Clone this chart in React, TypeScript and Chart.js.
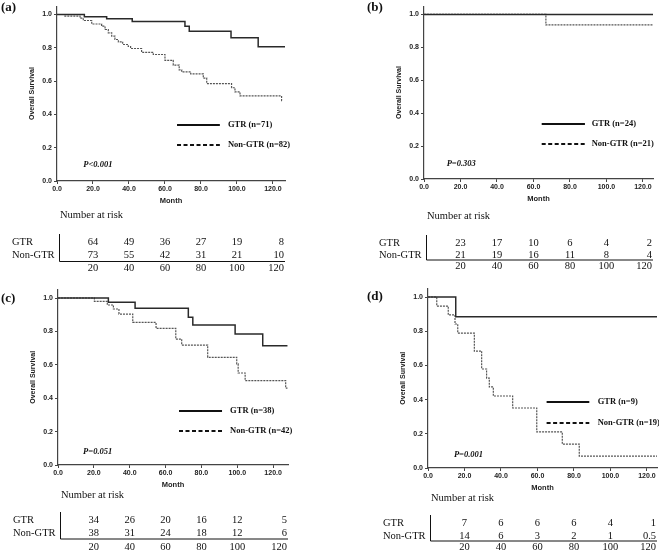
import React, { useEffect, useRef } from "react";
import { Chart, registerables } from "chart.js";

Chart.register(...registerables);

// ---------- data ----------
const riskMonths = [20, 40, 60, 80, 100, 120];
const xTickValues = [0, 20, 40, 60, 80, 100, 120];
const yTickValues = [0, 0.2, 0.4, 0.6, 0.8, 1.0];
const groupNames = ["GTR", "Non-GTR"];

// (a)
const aGtrTime = [0, 15.2, 27.6, 41.8, 71.1, 73.5, 96.7, 111.8, 126.7];
const aGtrSurv = [1, 0.987, 0.974, 0.958, 0.929, 0.9, 0.861, 0.806, 0.806];
const aNonTime = [0, 4.4, 12.8, 14.6, 19.3, 24.8, 26.7, 28.5, 30.4, 32.2, 34.1, 36.5, 39.6, 40.9, 47, 53.5, 60, 64.6, 67.9, 69.3, 74.3, 81.3, 83.2, 97, 98.9, 101.7, 124.8, 125.5];
const aNonSurv = [1, 0.99, 0.978, 0.964, 0.943, 0.93, 0.91, 0.89, 0.87, 0.85, 0.836, 0.82, 0.808, 0.796, 0.773, 0.76, 0.725, 0.696, 0.667, 0.655, 0.643, 0.618, 0.585, 0.56, 0.535, 0.511, 0.483, 0.483];
const aRiskGtr = [64, 49, 36, 27, 19, 8];
const aRiskNon = [73, 55, 42, 31, 21, 10];

// (b)
const bGtrTime = [0, 125.5];
const bGtrSurv = [1, 1];
const bNonTime = [0, 66.8, 125.5];
const bNonSurv = [1, 0.936, 0.936];
const bRiskGtr = [23, 17, 10, 6, 4, 2];
const bRiskNon = [21, 19, 16, 11, 8, 4];

// (c)
const cGtrTime = [0, 28.1, 43, 72.7, 75.2, 98.8, 114.2, 128];
const cGtrSurv = [1, 0.974, 0.938, 0.884, 0.838, 0.784, 0.714, 0.714];
const cNonTime = [0, 20.3, 27.5, 30.9, 34, 41.7, 54.7, 65.7, 69, 83.5, 99.7, 100.5, 104.4, 127, 128];
const cNonSurv = [1, 0.98, 0.958, 0.934, 0.904, 0.854, 0.818, 0.754, 0.718, 0.645, 0.605, 0.551, 0.505, 0.46, 0.46];
const cRiskGtr = [34, 26, 20, 16, 12, 5];
const cRiskNon = [38, 31, 24, 18, 12, 6];

// (d)
const dGtrTime = [0, 15.2, 125.5];
const dGtrSurv = [1, 0.885, 0.885];
const dNonTime = [0, 4.8, 11.1, 14.8, 16.3, 25.4, 29.4, 32.1, 33.6, 35.8, 46.4, 59.6, 73.6, 82.9, 125.5];
const dNonSurv = [1, 0.947, 0.895, 0.842, 0.789, 0.684, 0.579, 0.526, 0.474, 0.421, 0.351, 0.211, 0.14, 0.07, 0.07];
const dRiskGtr = [7, 6, 6, 6, 4, 1];
const dRiskNon = [14, 6, 3, 2, 1, 0.5];

// ---------- style / layout ----------
const SERIF = '"Liberation Serif", "Times New Roman", serif';
const SANS = '"Liberation Sans", Arial, sans-serif';
const YW = 29; // y scale box width
const XH = 24.5; // x scale box height

type Panel = {
  left: number; top: number; w: number; h: number;
  L: number; R: number; T: number; B: number; xMax: number;
  label: string; labelX: number; labelY: number;
  gtrTime: number[]; gtrSurv: number[]; nonTime: number[]; nonSurv: number[];
  riskGtr: number[]; riskNon: number[];
  legendX: number[]; legendY: number[]; legendText: string[];
  pText: string; pX: number; pY: number;
  tab: { nar: number; gtr: number; non: number; bottom: number; hline: number };
};

const panels: Panel[] = [
  {
    left: 0, top: 0, w: 330, h: 280, L: 57, R: 285, T: 0.9, B: 181, xMax: 126.7,
    label: "(a)", labelX: 1, labelY: 8,
    gtrTime: aGtrTime, gtrSurv: aGtrSurv, nonTime: aNonTime, nonSurv: aNonSurv,
    riskGtr: aRiskGtr, riskNon: aRiskNon,
    legendX: [66.7, 90.5, 95], legendY: [0.338, 0.216], legendText: ["GTR (n=71)", "Non-GTR (n=82)"],
    pText: "P<0.001", pX: 14.6, pY: 0.1,
    tab: { nar: 215, gtr: 242, non: 255, bottom: 268, hline: 261.5 },
  },
  {
    left: 330, top: 0, w: 329, h: 280, L: 94, R: 323, T: 2.6, B: 179, xMax: 125.5,
    label: "(b)", labelX: 37, labelY: 8,
    gtrTime: bGtrTime, gtrSurv: bGtrSurv, nonTime: bNonTime, nonSurv: bNonSurv,
    riskGtr: bRiskGtr, riskNon: bRiskNon,
    legendX: [64.5, 88.2, 91.9], legendY: [0.335, 0.212], legendText: ["GTR (n=24)", "Non-GTR (n=21)"],
    pText: "P=0.303", pX: 12.4, pY: 0.093,
    tab: { nar: 216, gtr: 243, non: 255, bottom: 266, hline: 260 },
  },
  {
    left: 0, top: 280, w: 330, h: 273, L: 58, R: 288, T: 9.65, B: 185, xMax: 128.3,
    label: "(c)", labelX: 1, labelY: 19,
    gtrTime: cGtrTime, gtrSurv: cGtrSurv, nonTime: cNonTime, nonSurv: cNonSurv,
    riskGtr: cRiskGtr, riskNon: cRiskNon,
    legendX: [67.5, 91.5, 96], legendY: [0.325, 0.205], legendText: ["GTR (n=38)", "Non-GTR (n=42)"],
    pText: "P=0.051", pX: 14, pY: 0.078,
    tab: { nar: 215, gtr: 240, non: 253, bottom: 267, hline: 259 },
  },
  {
    left: 330, top: 280, w: 329, h: 273, L: 98, R: 327, T: 8.45, B: 188, xMax: 125.5,
    label: "(d)", labelX: 37, labelY: 17,
    gtrTime: dGtrTime, gtrSurv: dGtrSurv, nonTime: dNonTime, nonSurv: dNonSurv,
    riskGtr: dRiskGtr, riskNon: dRiskNon,
    legendX: [65, 88.4, 93], legendY: [0.388, 0.261], legendText: ["GTR (n=9)", "Non-GTR (n=19)"],
    pText: "P=0.001", pX: 14.2, pY: 0.08,
    tab: { nar: 218, gtr: 243, non: 256, bottom: 267, hline: 261 },
  },
];

function makeExtras(p: Panel) {
  return {
    id: "kmExtras",
    afterDraw(chart: any) {
      const ctx = chart.ctx;
      const xs = chart.scales.x;
      const ys = chart.scales.y;
      const ca = chart.chartArea;
      ctx.save();
      // panel label
      ctx.fillStyle = "#111";
      ctx.textBaseline = "middle";
      ctx.textAlign = "left";
      ctx.font = `bold 13px ${SERIF}`;
      ctx.fillText(p.label, p.labelX, p.labelY);

      // legend
      const lx0 = xs.getPixelForValue(p.legendX[0]);
      const lx1 = xs.getPixelForValue(p.legendX[1]);
      const tx = xs.getPixelForValue(p.legendX[2]);
      ctx.strokeStyle = "#111";
      ctx.lineWidth = 2;
      p.legendY.forEach((v, i) => {
        const y = Math.round(ys.getPixelForValue(v));
        ctx.setLineDash(i === 0 ? [] : [4, 2.5]);
        ctx.beginPath();
        ctx.moveTo(lx0, y);
        ctx.lineTo(lx1, y);
        ctx.stroke();
        ctx.font = `bold 8.5px ${SERIF}`;
        ctx.fillText(p.legendText[i], tx, y);
      });
      ctx.setLineDash([]);

      // p-value
      ctx.font = `italic bold 8.5px ${SERIF}`;
      ctx.fillText(p.pText, xs.getPixelForValue(p.pX), ys.getPixelForValue(p.pY));

      // number at risk table
      const t = p.tab;
      ctx.font = `10.5px ${SERIF}`;
      ctx.fillText("Number at risk", ca.left + 3, t.nar);
      ctx.fillText(groupNames[0], ca.left - 45, t.gtr);
      ctx.fillText(groupNames[1], ca.left - 45, t.non);
      const rows = [
        { y: t.gtr, vals: p.riskGtr },
        { y: t.non, vals: p.riskNon },
        { y: t.bottom, vals: riskMonths },
      ];
      rows.forEach((r) => {
        r.vals.forEach((v, i) => {
          const last = i === riskMonths.length - 1;
          ctx.textAlign = last ? "right" : "center";
          const x = last ? ca.right - 1 : xs.getPixelForValue(riskMonths[i]);
          ctx.fillText(String(v), x, r.y);
        });
      });
      ctx.strokeStyle = "#111";
      ctx.lineWidth = 1;
      const vx = Math.round(ca.left + 2) + 0.5;
      ctx.beginPath();
      ctx.moveTo(vx, t.gtr - 8);
      ctx.lineTo(vx, t.hline);
      ctx.lineTo(ca.right, t.hline);
      ctx.stroke();
      ctx.restore();
    },
  };
}

function KMPanel({ p }: { p: Panel }) {
  const ref = useRef<HTMLCanvasElement>(null);
  useEffect(() => {
    const toPts = (ts: number[], ss: number[]) => ts.map((t, i) => ({ x: t, y: ss[i] }));
    const chart = new Chart(ref.current as HTMLCanvasElement, {
      type: "line",
      data: {
        datasets: [
          {
            label: "GTR",
            data: toPts(p.gtrTime, p.gtrSurv),
            borderColor: "#2a2a2a",
            borderWidth: 1.5,
            pointRadius: 0,
            stepped: "before",
            fill: false,
          },
          {
            label: "Non-GTR",
            data: toPts(p.nonTime, p.nonSurv),
            borderColor: "#555",
            borderWidth: 1.2,
            borderDash: [2, 1],
            pointRadius: 0,
            stepped: "before",
            fill: false,
          },
        ],
      },
      options: {
        responsive: false,
        animation: false,
        devicePixelRatio: 1,
        events: [],
        layout: {
          autoPadding: false,
          padding: { left: p.L - YW, right: p.w - p.R, top: p.T, bottom: p.h - p.B - XH },
        },
        plugins: { legend: { display: false }, tooltip: { enabled: false } },
        scales: {
          x: {
            type: "linear",
            min: 0,
            max: p.xMax,
            afterBuildTicks: (s: any) => {
              s.ticks = xTickValues.map((v) => ({ value: v }));
            },
            afterFit: (s: any) => {
              s.height = XH;
            },
            ticks: {
              callback: (v: any) => Number(v).toFixed(1),
              font: { family: SANS, size: 7, weight: "bold" },
              color: "#222",
              padding: 1,
              maxRotation: 0,
              autoSkip: false,
            },
            grid: { drawOnChartArea: false, drawTicks: true, tickLength: 3, color: "#444" },
            border: { display: true, color: "#444", width: 1.2 },
            title: {
              display: true,
              text: "Month",
              font: { family: SANS, size: 7.5, weight: "bold" },
              color: "#222",
              padding: 0,
            },
          },
          y: {
            type: "linear",
            min: 0,
            max: 1.05,
            afterBuildTicks: (s: any) => {
              s.ticks = yTickValues.map((v) => ({ value: v }));
            },
            afterFit: (s: any) => {
              s.width = YW;
            },
            ticks: {
              callback: (v: any) => Number(v).toFixed(1),
              font: { family: SANS, size: 7, weight: "bold" },
              color: "#222",
              padding: 2,
            },
            grid: { drawOnChartArea: false, drawTicks: true, tickLength: 3, color: "#444" },
            border: { display: true, color: "#444", width: 1.2 },
            title: {
              display: true,
              text: "Overall Survival",
              font: { family: SANS, size: 7, weight: "bold" },
              color: "#222",
              padding: 0,
            },
          },
        },
      },
      plugins: [makeExtras(p)],
    } as any);
    return () => chart.destroy();
  }, [p]);
  return (
    <canvas
      ref={ref}
      width={p.w}
      height={p.h}
      style={{ position: "absolute", left: p.left, top: p.top, width: p.w, height: p.h }}
    />
  );
}

export default function App() {
  return (
    <div style={{ position: "absolute", left: 0, top: 0, width: 659, height: 553, background: "#fff", overflow: "hidden" }}>
      {panels.map((p) => (
        <KMPanel key={p.label} p={p} />
      ))}
    </div>
  );
}
